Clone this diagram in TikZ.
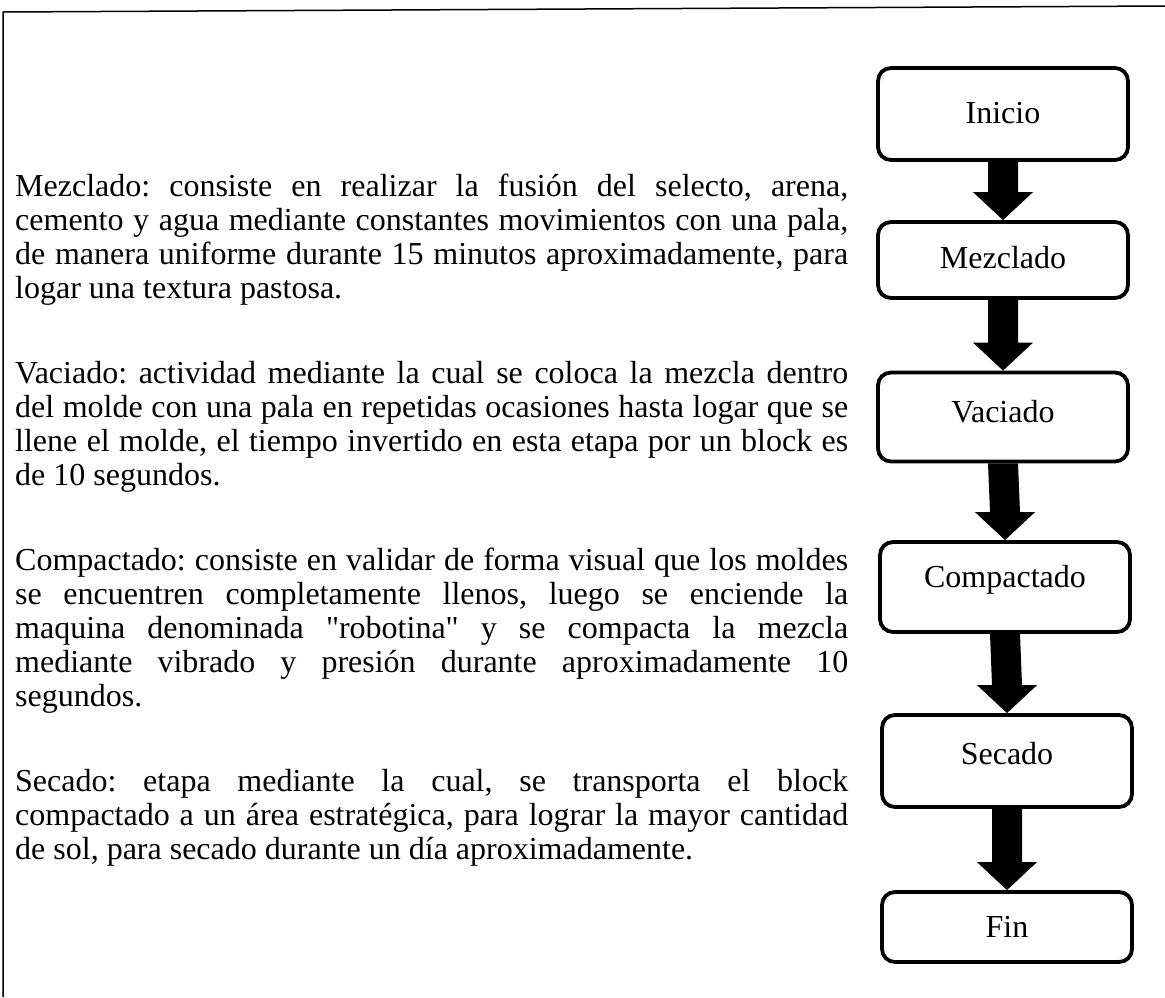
\documentclass[tikz,border=0pt]{standalone}
\usepackage{fontspec}
\setmainfont{Liberation Serif}
\usetikzlibrary{calc}
\tikzset{
  stepbox/.style={draw, line width=3.8pt, rounded corners=13pt, minimum width=250pt, inner sep=0pt},
  steptext/.style={font=\fontsize{32}{34}\selectfont, inner sep=0pt},
  para/.style={anchor=base west, inner sep=0pt, text width=833pt, align=justify, font=\fontsize{32}{34}\selectfont\frenchspacing},
  frame/.style={line width=1.5pt}
}
\newcommand\fatarrow[2]{%
  \fill ($(#1.south)+(-15,0)$) -- ($(#1.south)+(15,0)$) -- ($(#2.north)+(15,-28)$) -- ($(#2.north)+(30,-28)$) -- (#2.north) -- ($(#2.north)+(-30,-28)$) -- ($(#2.north)+(-15,-28)$) -- cycle;}
\begin{document}
\begin{tikzpicture}[x=1pt,y=-1pt]
\useasboundingbox (0,0) rectangle (1165,997);
\fill[white] (0,0) rectangle (1165,997);
\draw[frame] (3,997) -- (3,12) -- (1165,6);
% boxes
\node[stepbox, minimum height=92pt] (b1) at (1003,114) {};
\node[stepbox, minimum height=76pt] (b2) at (1003,260) {};
\node[stepbox, minimum height=89pt] (b3) at (1003,417) {};
\node[stepbox, minimum height=90pt] (b4) at (1005,587) {};
\node[stepbox, minimum height=92pt] (b5) at (1007,761) {};
\node[stepbox, minimum height=70pt] (b6) at (1007,927) {};
\node[steptext] (t1) at (1003,113) {Inicio};
\node[steptext] (t2) at (1003,258) {Mezclado};
\node[steptext] (t3) at (1003,412) {Vaciado};
\node[steptext] (t4) at (1005,580) {Compactado};
\node[steptext] (t5) at (1007,754) {Secado};
\node[steptext] (t6) at (1007,927) {Fin};
\fatarrow{b1}{b2}
\fatarrow{b2}{b3}
\fatarrow{b3}{b4}
\fatarrow{b4}{b5}
\fatarrow{b5}{b6}
% paragraphs
\node[para] (p1) at (15,196) {Mezclado: consiste en realizar la fusión del selecto, arena,\linebreak
cemento y agua mediante constantes movimientos con una pala,\linebreak
de manera uniforme durante 15 minutos aproximadamente, para\linebreak
logar una textura pastosa.};
\node[para] (p2) at (15,383) {Vaciado: actividad mediante la cual se coloca la mezcla dentro\linebreak
del molde con una pala en repetidas ocasiones hasta logar que se\linebreak
llene el molde, el tiempo invertido en esta etapa por un block es\linebreak
de 10 segundos.};
\node[para] (p3) at (15,570) {Compactado: consiste en validar de forma visual que los moldes\linebreak
se encuentren completamente llenos, luego se enciende la\linebreak
maquina denominada \textquotedbl robotina\textquotedbl{} y se compacta la mezcla\linebreak
mediante vibrado y presión durante aproximadamente 10\linebreak
segundos.};
\node[para] (p4) at (15,791) {Secado: etapa mediante la cual, se transporta el block\linebreak
compactado a un área estratégica, para lograr la mayor cantidad\linebreak
de sol, para secado durante un día aproximadamente.};
\end{tikzpicture}
\end{document}
